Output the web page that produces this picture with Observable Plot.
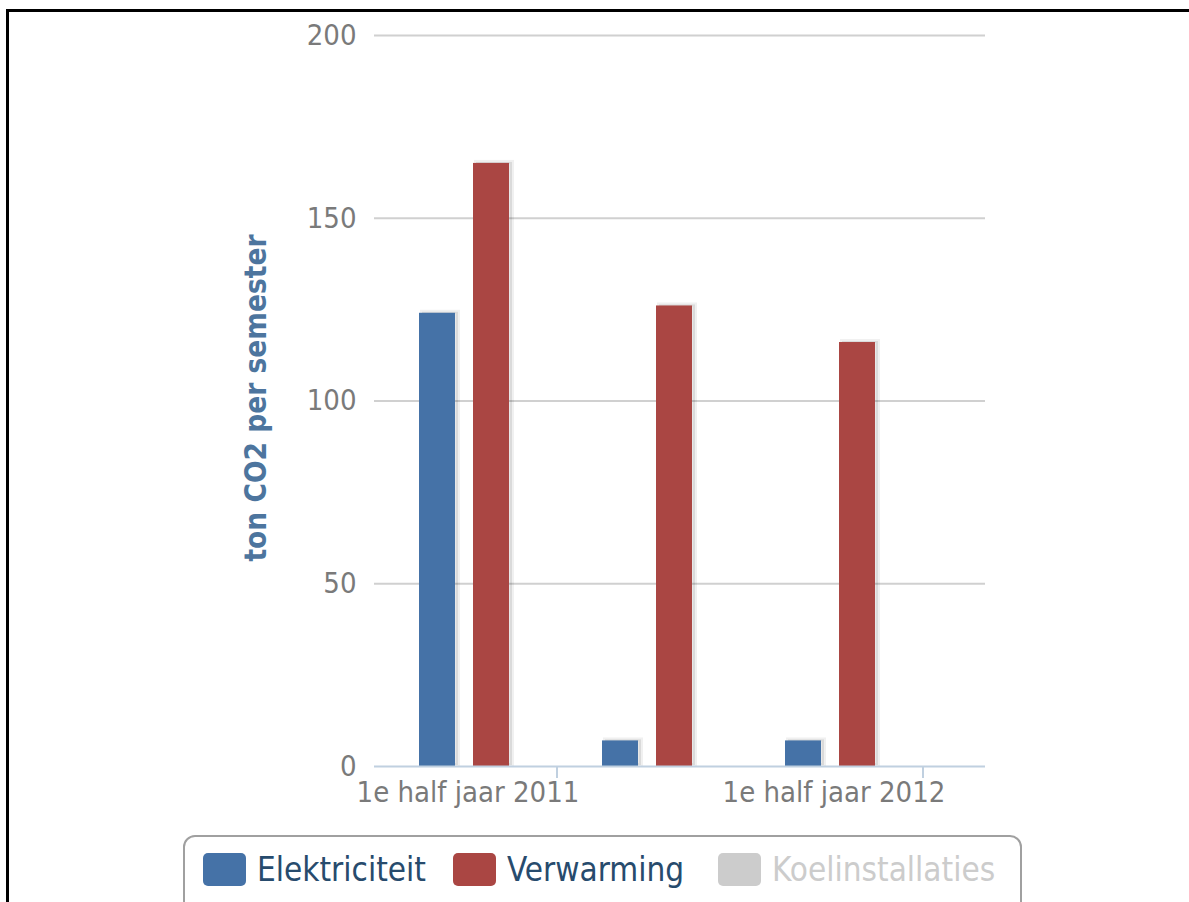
<!DOCTYPE html>
<html>
<head>
<meta charset="utf-8">
<script src="https://cdn.jsdelivr.net/npm/d3@7"></script>
<script src="https://cdn.jsdelivr.net/npm/@observablehq/plot@0.6"></script>
<style>
  html, body { margin: 0; padding: 0; background: #fff; width: 1189px; height: 902px; overflow: hidden; }
  #frame { position: absolute; left: 6px; top: 9px; width: 1200px; height: 900px;
           border-top: 3px solid #000; border-left: 3px solid #000; }
  #chart { position: absolute; left: 0; top: 0; }
  #legend { position: absolute; left: 183px; top: 835px; width: 839px; height: 90px;
            border: 2px solid #a0a0a0; border-radius: 12px; box-sizing: border-box;
            font-family: "DejaVu Sans Condensed", "DejaVu Sans", sans-serif; font-size: 33px; color: #274b6d; }
  .item { position: absolute; top: 13px; display: flex; align-items: center; white-space: nowrap; }
  .sw { width: 43px; height: 33px; border-radius: 5px; margin-right: 11px; }
</style>
</head>
<body>
<div id="frame"></div>
<div id="chart"></div>
<div id="legend"></div>
<script>
const categories = ["1e half jaar 2011", "2e half jaar 2011", "1e half jaar 2012"];
const seriesNames = ["Elektriciteit", "Verwarming", "Koelinstallaties"];
const seriesColors = ["#4572A7", "#AA4643", "#cccccc"];
const seriesVisible = [true, true, false];
const elektriciteit = [124, 7, 7];
const verwarming = [165, 126, 116];
const koelinstallaties = [0, 0, 0];
const yTicks = [0, 50, 100, 150, 200];
const xTickLabels = ["1e half jaar 2011", "1e half jaar 2012"];
const yTitle = "ton CO2 per semester";

const seriesValues = [elektriciteit, verwarming, koelinstallaties];
const data = [];
seriesNames.forEach((s, j) => {
  if (!seriesVisible[j]) return;
  categories.forEach((c, i) => data.push({category: c, series: s, value: seriesValues[j][i]}));
});

const gridTicks = yTicks.filter(d => d > 0);
const font = "DejaVu Sans Condensed, DejaVu Sans, sans-serif";
// grid / baseline rules, one per facet band so that they join without overlap
function rules(values, opts) {
  return categories.map((c, i) => Plot.ruleY(values, {
    fx: () => c, y: d => d, ...opts,
    insetLeft: i === 0 ? -25 : 0,
    insetRight: i === categories.length - 1 ? -37 : 0
  }));
}

const chart = Plot.plot({
  width: 1189,
  height: 820,
  marginLeft: 373,
  marginRight: 204,
  marginTop: 35,
  marginBottom: 54,
  style: {fontFamily: font, background: "transparent"},
  fx: {domain: categories, paddingInner: 0, paddingOuter: 0.1676, align: 0.41, label: null},
  x: {domain: seriesNames, paddingInner: 0.34, paddingOuter: 0.35, axis: null},
  y: {domain: [0, 200], axis: null},
  color: {domain: seriesNames, range: seriesColors},
  marks: [
    ...rules(gridTicks, {stroke: "#d0d0d0", strokeWidth: 2}),
    Plot.barY(data, {fx: "category", x: "series", y: "value", fill: "#000", fillOpacity: 0.09,
                     stroke: "#000", strokeOpacity: 0.06, strokeWidth: 4, dx: 3, dy: -1}),
    Plot.barY(data, {fx: "category", x: "series", y: "value", fill: "series"}),
    ...rules([0], {stroke: "#C0D0E0", strokeWidth: 2}),
    Plot.axisY({ticks: yTicks, tickSize: 0, tickPadding: 43, fontSize: 29, fill: "#7a7a7a", label: null}),
    Plot.axisFx({anchor: "bottom", ticks: xTickLabels, tickSize: 0, tickPadding: 15, dx: -23, fontSize: 29, fill: "#7a7a7a", label: null}),
    Plot.axisFx({anchor: "bottom", ticks: xTickLabels, tickSize: 12, tickFormat: () => "", dx: 66, stroke: "#C0D0E0", strokeWidth: 2, label: null})
  ]
});
document.getElementById("chart").appendChild(chart);

// y axis title (rotated)
const svg = d3.select(chart);
svg.append("text")
  .attr("transform", "translate(266,398) rotate(-90)")
  .attr("text-anchor", "middle")
  .attr("font-family", font)
  .attr("font-weight", "bold")
  .attr("font-size", 29.5)
  .attr("fill", "#4d759e")
  .text(yTitle);

// legend
const legend = document.getElementById("legend");
const lefts = [18, 268, 533];
seriesNames.forEach((s, j) => {
  const it = document.createElement("div");
  it.className = "item";
  it.style.left = lefts[j] + "px";
  const sw = document.createElement("div");
  sw.className = "sw";
  sw.style.background = seriesColors[j];
  const t = document.createElement("span");
  t.textContent = s;
  if (!seriesVisible[j]) t.style.color = "#cccccc";
  it.appendChild(sw); it.appendChild(t);
  legend.appendChild(it);
});
</script>
</body>
</html>
